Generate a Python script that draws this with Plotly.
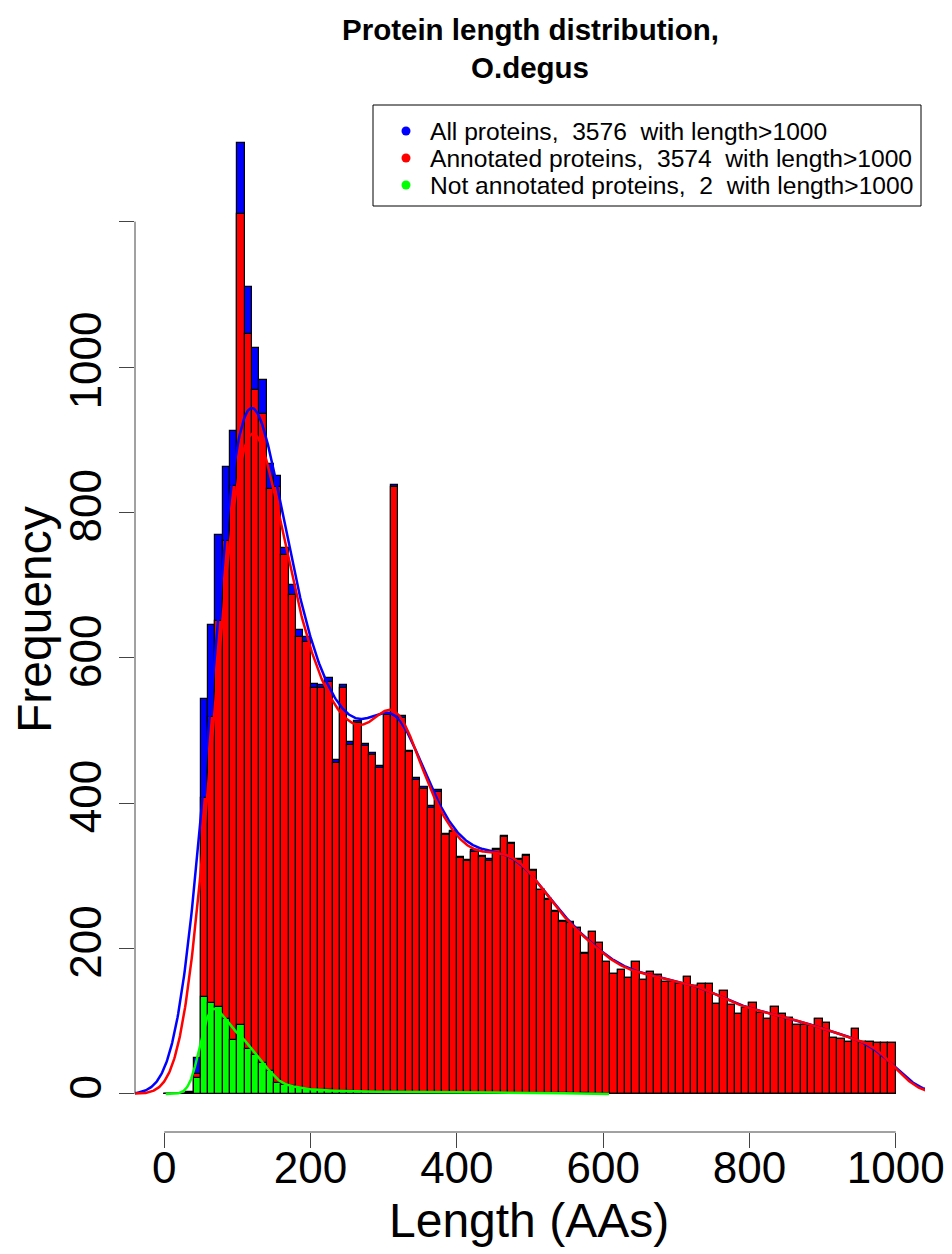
import numpy as np
import plotly.graph_objects as go

# ---------------- data ----------------
BIN_WIDTH = 10
bin_left = list(range(0, 1000, 10))

all_counts = [
    0, 0, 0, 3, 49, 544, 645, 769, 862, 912,
    1308, 1110, 1026, 982, 866, 850, 751, 700, 638, 629,
    564, 563, 572, 459, 562, 484, 513, 481, 469, 451,
    524, 838, 520, 472, 434, 422, 396, 418, 358, 362,
    326, 322, 335, 328, 323, 337, 355, 345, 323, 329,
    308, 281, 268, 252, 238, 236, 228, 194, 223, 207,
    181, 165, 171, 160, 182, 157, 168, 164, 154, 154,
    151, 161, 149, 151, 151, 124, 142, 122, 110, 118,
    125, 111, 103, 120, 110, 104, 95, 95, 93, 103,
    97, 77, 75, 71, 89, 71, 72, 70, 70, 70,
]
annot_counts = [
    0, 0, 0, 1, 27, 407, 518, 650, 761, 836,
    1211, 1046, 968, 936, 832, 835, 741, 686, 629, 622,
    558, 558, 567, 455, 558, 480, 510, 478, 466, 448,
    521, 835, 517, 470, 432, 420, 394, 416, 356, 360,
    324, 320, 333, 326, 321, 335, 353, 344, 322, 328,
    307, 280, 267, 251, 237, 235, 228, 193, 223, 207,
    181, 165, 171, 160, 182, 157, 168, 164, 154, 154,
    151, 161, 149, 151, 151, 124, 142, 122, 110, 118,
    125, 111, 103, 120, 110, 104, 95, 95, 93, 103,
    97, 77, 75, 71, 89, 71, 72, 70, 70, 70,
]
notannot_counts = [
    0, 0, 0, 2, 22, 134, 125, 120, 103, 74,
    95, 62, 53, 42, 32, 15, 12, 11, 8, 7,
    6, 5, 5, 4, 4, 4, 3, 3, 3, 3,
    3, 3, 3, 2, 2, 2, 2, 2, 2, 2,
    2, 2, 2, 2, 2, 2, 2, 1, 1, 1,
    1, 1, 1, 1, 1, 1, 0, 1, 0, 0,
    0, 0, 0, 0, 0, 0, 0, 0, 0, 0,
    0, 0, 0, 0, 0, 0, 0, 0, 0, 0,
    0, 0, 0, 0, 0, 0, 0, 0, 0, 0,
    0, 0, 0, 0, 0, 0, 0, 0, 0, 0,
]

legend_labels = [
    "All proteins,\u00a0 3576\u00a0 with length>1000",
    "Annotated proteins,\u00a0 3574\u00a0 with length>1000",
    "Not annotated proteins,\u00a0 2\u00a0 with length>1000",
]
series_colors = ["#0000FF", "#FF0000", "#00FF00"]
bandwidths = [31.0, 27.5, 11.0]   # kernel density bandwidths (AAs)

x_ticks = [0, 200, 400, 600, 800, 1000]
y_ticks = [0, 200, 400, 600, 800, 1000, 1200]
y_ticktext = ["0", "200", "400", "600", "800", "1000", ""]

title_lines = ["Protein length distribution,", "O.degus"]
x_title = "Length (AAs)"
y_title = "Frequency"

# ---------------- helpers ----------------
centers = np.array(bin_left, float) + BIN_WIDTH / 2.0


def density_curve(counts, bw, step=1.0):
    c = np.asarray(counts, float)
    nz = np.nonzero(c)[0]
    lo = centers[nz[0]] - 3 * bw
    hi = centers[nz[-1]] + 3 * bw
    xs = np.arange(lo, hi + step, step)
    z = (xs[:, None] - centers[None, :]) / bw
    ys = (c[None, :] * np.exp(-0.5 * z ** 2)).sum(axis=1) / (bw * np.sqrt(2 * np.pi)) * BIN_WIDTH
    return xs, ys


FONT = "Liberation Sans, Arial, Helvetica, sans-serif"
W, H = 952, 1254
ML, MR, MT, MB = 135, 27, 105, 122
PW, PH = W - ML - MR, H - MT - MB


def px2paper_x(px):
    return (px - ML) / PW


def px2paper_y(py):
    return (H - MB - py) / PH


fig = go.Figure()

all_series = [all_counts, annot_counts, notannot_counts]
for counts, col in zip(all_series, series_colors):
    fig.add_trace(go.Bar(
        x=centers, y=counts, width=BIN_WIDTH,
        marker=dict(color=col, line=dict(color="black", width=1.2)),
        showlegend=False, hoverinfo="skip",
    ))

for counts, col, bw in zip(all_series, series_colors, bandwidths):
    xs, ys = density_curve(counts, bw)
    fig.add_trace(go.Scatter(
        x=xs, y=ys, mode="lines", line=dict(color=col, width=2.5),
        showlegend=False, hoverinfo="skip",
    ))

shapes = []
# axis lines spanning only the tick range (R style)
shapes.append(dict(type="line", xref="x", yref="paper", x0=0, x1=1000, y0=0, y1=0,
                   line=dict(color="#444", width=1)))
shapes.append(dict(type="line", xref="paper", yref="y", x0=0, x1=0, y0=0, y1=1200,
                   line=dict(color="#444", width=1)))

# legend box
bx0, bx1, by0, by1 = 373, 921, 105, 206
shapes.append(dict(type="rect", xref="paper", yref="paper",
                   x0=px2paper_x(bx0), x1=px2paper_x(bx1),
                   y0=px2paper_y(by1), y1=px2paper_y(by0),
                   line=dict(color="black", width=1), fillcolor="white", layer="above"))

annotations = []
row_y = [131, 158, 185]
for lab, col, ry in zip(legend_labels, series_colors, row_y):
    r = 4.5
    shapes.append(dict(type="circle", xref="paper", yref="paper",
                       x0=px2paper_x(406 - r), x1=px2paper_x(406 + r),
                       y0=px2paper_y(ry + r), y1=px2paper_y(ry - r),
                       fillcolor=col, line=dict(color=col, width=0), layer="above"))
    annotations.append(dict(text=lab, xref="paper", yref="paper",
                            x=px2paper_x(428), y=px2paper_y(ry),
                            xanchor="left", yanchor="middle", showarrow=False,
                            font=dict(family=FONT, size=24.6, color="black")))

# title
for line, ty in zip(title_lines, [29, 67]):
    annotations.append(dict(text="<b>" + line + "</b>", xref="paper", yref="paper",
                            x=0.5, y=px2paper_y(ty), xanchor="center", yanchor="middle",
                            showarrow=False, font=dict(family=FONT, size=29.5, color="black")))

# axis titles
annotations.append(dict(text=x_title, xref="paper", yref="paper",
                        x=px2paper_x(529), y=px2paper_y(1220), xanchor="center", yanchor="middle",
                        showarrow=False, font=dict(family=FONT, size=48, color="black")))
annotations.append(dict(text=y_title, xref="paper", yref="paper",
                        x=px2paper_x(34), y=px2paper_y(620), xanchor="center", yanchor="middle",
                        textangle=-90, showarrow=False,
                        font=dict(family=FONT, size=48, color="black")))

fig.update_layout(
    template="none",
    width=W, height=H, autosize=False,
    margin=dict(l=ML, r=MR, t=MT, b=MB, pad=0, autoexpand=False),
    paper_bgcolor="white", plot_bgcolor="white",
    barmode="overlay", bargap=0,
    showlegend=False,
    shapes=shapes, annotations=annotations,
    xaxis=dict(range=[-40, 1040], tickmode="array", tickvals=x_ticks,
               ticktext=[str(v) for v in x_ticks], automargin=False,
               showgrid=False, zeroline=False, showline=False,
               ticks="outside", ticklen=15, tickwidth=1, tickcolor="#444",
               ticklabelstandoff=-18,
               tickfont=dict(family=FONT, size=44, color="black")),
    yaxis=dict(range=[-52.3, 1360.4], tickmode="array", tickvals=y_ticks, ticktext=y_ticktext,
               automargin=False,
               showgrid=False, zeroline=False, showline=False,
               ticks="outside", ticklen=15, tickwidth=1, tickcolor="#444",
               tickangle=-90,
               tickfont=dict(family=FONT, size=44, color="black")),
)

fig.write_html("out.html", config={"displayModeBar": False},
               post_script="document.body.style.margin='0';document.body.style.overflow='hidden';")
